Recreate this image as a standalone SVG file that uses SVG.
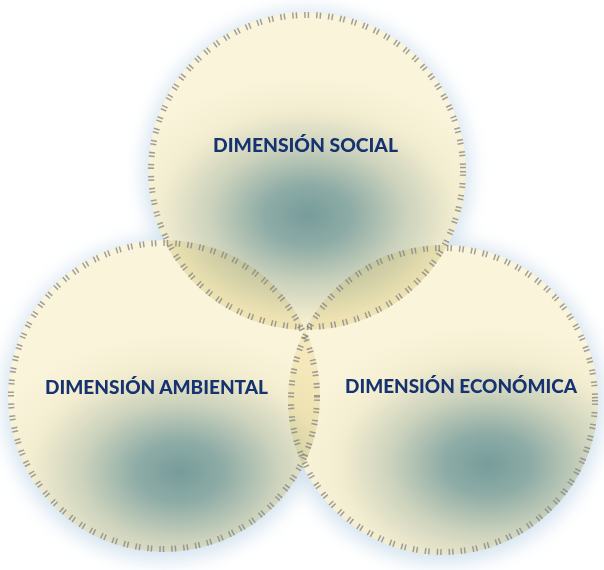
<svg xmlns="http://www.w3.org/2000/svg" width="604" height="570" viewBox="0 0 604 570">
<defs>
<filter id="halo" x="-30%" y="-30%" width="160%" height="160%"><feGaussianBlur stdDeviation="10"/></filter>
<filter id="soft" x="-10%" y="-10%" width="120%" height="120%"><feGaussianBlur stdDeviation="0.5"/></filter>
<radialGradient id="gTop" gradientUnits="userSpaceOnUse" cx="308" cy="215" r="165" gradientTransform="translate(308 215) scale(1.2 0.85) translate(-308 -215)">
<stop offset="0" stop-color="#769c9b"/><stop offset="0.22" stop-color="#8eaca6"/><stop offset="0.5" stop-color="#cdd3bd"/><stop offset="0.75" stop-color="#f3edd0"/><stop offset="1" stop-color="#faf4db"/>
</radialGradient>
<radialGradient id="gLeft" gradientUnits="userSpaceOnUse" cx="180" cy="472" r="165" gradientTransform="translate(180 472) scale(1.2 0.85) translate(-180 -472)">
<stop offset="0" stop-color="#769c9b"/><stop offset="0.22" stop-color="#8eaca6"/><stop offset="0.5" stop-color="#cdd3bd"/><stop offset="0.75" stop-color="#f3edd0"/><stop offset="1" stop-color="#faf4db"/>
</radialGradient>
<radialGradient id="gRight" gradientUnits="userSpaceOnUse" cx="488" cy="464" r="165" gradientTransform="translate(488 464) scale(1.2 0.85) translate(-488 -464)">
<stop offset="0" stop-color="#769c9b"/><stop offset="0.22" stop-color="#8eaca6"/><stop offset="0.5" stop-color="#cdd3bd"/><stop offset="0.75" stop-color="#f3edd0"/><stop offset="1" stop-color="#faf4db"/>
</radialGradient>
</defs>
<style>
.fill{mix-blend-mode:multiply}
.ring{fill:none;stroke:#808184;stroke-width:6;stroke-dasharray:1.5 2 1.5 7;opacity:0.75}
.lbl{font-family:Lato,"Liberation Sans",Arial,sans-serif;font-weight:900;fill:#16326f}
.halo{fill:#d2e2ef}
</style>
<rect width="604" height="570" fill="#ffffff"/>
<g id="shadows" filter="url(#halo)">
<circle class="halo" cx="307" cy="174" r="163"/>
<circle class="halo" cx="164" cy="400" r="160"/>
<circle class="halo" cx="443" cy="403" r="160"/>
</g>
<g id="base" fill="#ffffff">
<circle cx="307" cy="171" r="159"/>
<circle cx="164" cy="396" r="156"/>
<circle cx="443" cy="400" r="155"/>
</g>
<g id="node-social">
<circle class="fill" cx="307" cy="171" r="159" fill="url(#gTop)"/>
</g>
<g id="node-ambiental">
<circle class="fill" cx="164" cy="396" r="156" fill="url(#gLeft)"/>
</g>
<g id="node-economica">
<circle class="fill" cx="443" cy="400" r="155" fill="url(#gRight)"/>
</g>
<g id="rings" filter="url(#soft)">
<circle class="ring" cx="307" cy="171" r="156"/>
<circle class="ring" cx="164" cy="396" r="153"/>
<circle class="ring" cx="443" cy="400" r="152"/>
</g>
<g id="labels">
<text class="lbl" x="213" y="152" font-size="18" textLength="185" lengthAdjust="spacingAndGlyphs">DIMENSIÓN SOCIAL</text>
<text class="lbl" x="45" y="394" font-size="18" textLength="223" lengthAdjust="spacingAndGlyphs">DIMENSIÓN AMBIENTAL</text>
<text class="lbl" x="345" y="393" font-size="18" textLength="232" lengthAdjust="spacingAndGlyphs">DIMENSIÓN ECONÓMICA</text>
</g>
<g id="connectors"/>
</svg>
